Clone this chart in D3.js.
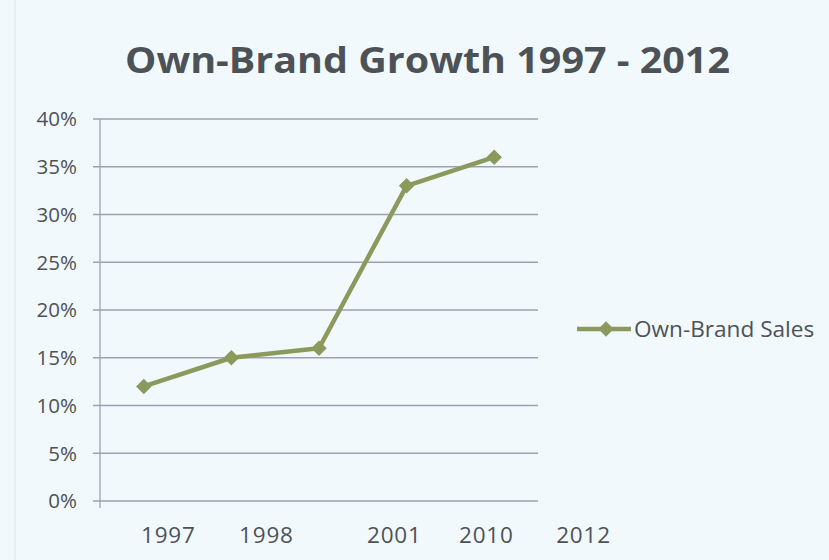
<!DOCTYPE html>
<html>
<head>
<meta charset="utf-8">
<script src="https://cdn.jsdelivr.net/npm/d3@7"></script>
<style>
  html, body { margin: 0; padding: 0; background: #f2f9fc; }
  svg { display: block; }
</style>
</head>
<body>
<svg id="chart"></svg>
<script>
const categories = ["c1", "c2", "c3", "c4", "c5"];
const sales = [12, 15, 16, 33, 36];
const yTicks = [0, 5, 10, 15, 20, 25, 30, 35, 40];
// x labels as printed under the chart; they do not sit under the points
const xLabels = ["1997", "1998", "2001", "2010", "2012"];
const xLabelAt = [0.28, 1.4, 2.86, 3.91, 5.02];
const seriesName = "Own-Brand Sales";

const width = 829, height = 560;
const plot = { left: 100, right: 538, top: 119, bottom: 501 };
const lineColor = "#8b9a5c";
const textColor = "#4d5257";
const gridColor = "#9ca1b3";

const svg = d3.select("#chart").attr("width", width).attr("height", height);

// faint scan edge on the left
svg.append("line")
  .attr("x1", 15).attr("x2", 15)
  .attr("y1", 0).attr("y2", height)
  .attr("stroke", "#e8eff2")
  .attr("stroke-width", 2);

const x = d3.scaleBand().domain(categories).range([plot.left, plot.right]);
const xIdx = d3.scaleLinear().domain([-0.5, categories.length - 0.5]).range([plot.left, plot.right]);
const y = d3.scaleLinear().domain([0, 40]).range([plot.bottom, plot.top]);

// title
svg.append("text")
  .attr("x", 125)
  .attr("y", 73)
  .attr("font-family", "Open Sans, sans-serif")
  .attr("font-weight", "bold")
  .attr("font-size", 36)
  .attr("textLength", 605)
  .attr("lengthAdjust", "spacingAndGlyphs")
  .attr("fill", textColor)
  .text("Own-Brand Growth 1997 - 2012");

// gridlines
svg.append("g")
  .selectAll("line")
  .data(yTicks)
  .join("line")
  .attr("x1", plot.left - 7)
  .attr("x2", plot.right)
  .attr("y1", d => y(d))
  .attr("y2", d => y(d))
  .attr("stroke", gridColor)
  .attr("stroke-width", 1.3);

// y axis line
svg.append("line")
  .attr("x1", plot.left).attr("x2", plot.left)
  .attr("y1", plot.top).attr("y2", plot.bottom + 7)
  .attr("stroke", gridColor)
  .attr("stroke-width", 1.3);

// y labels
svg.append("g")
  .selectAll("text")
  .data(yTicks)
  .join("text")
  .attr("x", 77)
  .attr("y", d => y(d))
  .attr("dy", "0.36em")
  .attr("text-anchor", "end")
  .attr("font-family", "Open Sans, sans-serif")
  .attr("font-size", 20.5)
  .attr("fill", textColor)
  .text(d => d + "%");

// x labels
svg.append("g")
  .selectAll("text")
  .data(xLabels)
  .join("text")
  .attr("x", (d, i) => xIdx(xLabelAt[i]))
  .attr("y", 543)
  .attr("text-anchor", "middle")
  .attr("font-family", "Open Sans, sans-serif")
  .attr("font-size", 22.5)
  .attr("letter-spacing", 0.8)
  .attr("fill", textColor)
  .text(d => d);

// series line
const line = d3.line()
  .x((d, i) => x(categories[i]) + x.bandwidth() / 2)
  .y(d => y(d));

svg.append("path")
  .datum(sales)
  .attr("d", line)
  .attr("fill", "none")
  .attr("stroke", lineColor)
  .attr("stroke-width", 4.5)
  .attr("stroke-linejoin", "round");

const diamond = d3.symbol().type(d3.symbolSquare).size(120);
svg.append("g")
  .selectAll("path")
  .data(sales)
  .join("path")
  .attr("transform", (d, i) => `translate(${x(categories[i]) + x.bandwidth() / 2},${y(d)}) rotate(45)`)
  .attr("d", diamond)
  .attr("fill", lineColor);

// legend
const legend = svg.append("g").attr("transform", "translate(577,329)");
legend.append("line")
  .attr("x1", 0).attr("x2", 54)
  .attr("stroke", lineColor)
  .attr("stroke-width", 4.5);
legend.append("path")
  .attr("transform", "translate(29,0) rotate(45)")
  .attr("d", diamond)
  .attr("fill", lineColor);
legend.append("text")
  .attr("x", 57)
  .attr("dy", "0.36em")
  .attr("font-family", "Open Sans, sans-serif")
  .attr("font-size", 22.6)
  .attr("fill", textColor)
  .text(seriesName);
</script>
</body>
</html>
